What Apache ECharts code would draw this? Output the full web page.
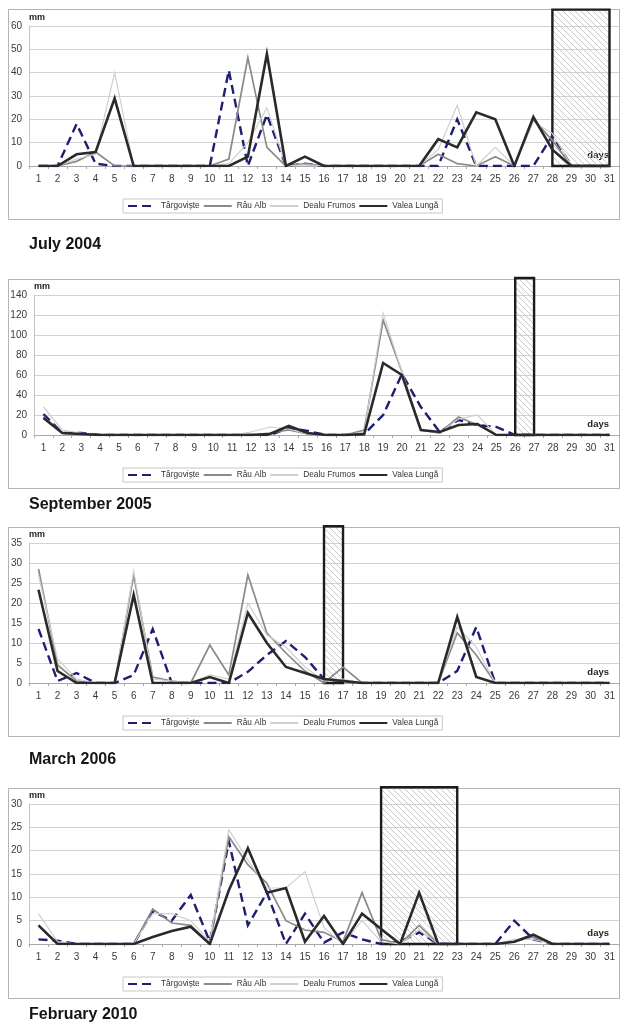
<!DOCTYPE html>
<html>
<head>
<meta charset="utf-8">
<script src="https://cdn.jsdelivr.net/npm/echarts@6/dist/echarts.min.js"></script>
<style>
  html, body { margin: 0; padding: 0; background: #fff; }
  #chart { width: 620px; height: 1026px; }
</style>
</head>
<body>
<div id="chart"></div>
<script>
// Daily precipitation (mm) at four stations, one panel per month
const days = ['1','2','3','4','5','6','7','8','9','10','11','12','13','14','15','16',
              '17','18','19','20','21','22','23','24','25','26','27','28','29','30','31'];
const stations = ['Târgoviște', 'Râu Alb', 'Dealu Frumos', 'Valea Lungă'];
const monthTitles = ['July 2004', 'September 2005', 'March 2006', 'February 2010'];

// July 2004
const targJul04  = [0,0,18,1,0,0,0,0,0,0,41,0,22,0,1,0,0,0,0,0,0,0,20,0,0,0,0,13,0,0,0];
const rauJul04   = [0,0,2,6,0,0,0,0,0,0,3,46.5,8,0,1,0,0,0,0,0,0,5,1,0,4,0,20,11,0,0,0];
const dealuJul04 = [0,0,3,5,40,0,0,0,0,0,1,10,25,0,0.5,0,0,0,0,0,0,7,26,0,8,0,19,14,0,0,0];
const valeaJul04 = [0,0,5,6,29,0,0,0,0,0,0,4,48,0,4,0,0,0,0,0,0,11.5,8,23,20,0,21,7,0,0,0];

// September 2005
const targSep05  = [21,2,2,0,0,0,0,0,0,0,0,0,0,7,4,0,0,1,20,61,28,3,15,10,8,0,0,0,0,0,0];
const rauSep05   = [18,2,1,0,0,0,0,0,0,0,0,0,2,5,1,0,0,5,115,63,5,2,18,10,0,0,0,0,0,0,0];
const dealuSep05 = [28,5,2,0,0,0,0,0,0,0,0,3,8,6,1,0,0,3,122,63,5,2,16,20,0,0,0,0,0,0,0];
const valeaSep05 = [17,2,1,0,0,0,0,0,0,0,0,0,1,9,2,0,0,1,72,60,5,3,10,11,0,0,0,0,0,0,0];

// March 2006
const targMar06  = [13.5,0.5,2.5,0,0,2,13.5,0,0,0,0,2.8,7,10.5,6.5,1,0.5,0,0,0,0,0,3,14,0,0,0,0,0,0,0];
const rauMar06   = [28.5,4.5,0.5,0,0,27,1.5,0.5,0,9.5,2,27,12.5,7.5,3,0,4,0,0,0,0,0,12.5,7,0,0,0,0,0,0,0];
const dealuMar06 = [27,6,1,0,0,28,1,0.5,0,2,1,20,12,9,4,0.5,1,0,0,0,0,0,14,9,0,0,0,0,0,0,0];
const valeaMar06 = [23.3,3,0,0,0,22,0,0,0,1.5,0,17.5,10,4,2.5,1,0.5,0,0,0,0,0,16.5,1.5,0,0,0,0,0,0,0];

// February 2010
const targFeb10  = [1,0.7,0,0,0,0,7,5,10.5,0.5,22,4,11,0,6.5,0.3,2.5,1,0,0.5,2.5,0,0,0,0,5,1,0,0,0,0];
const rauFeb10   = [4,0,0,0,0,0,7.5,4.5,4,0,23,17,13,5,3,2.5,0.5,11,1,0,4,0,0,0,0,0.5,1.5,0,0,0,0];
const dealuFeb10 = [6.5,0.5,0,0,0,0,6.5,6.5,5,0.5,24.5,18,12,12,15.5,3.5,0,5,0.5,0,3,0,0,0,0,1,1,0,0,0,0];
const valeaFeb10 = [4,0,0,0,0,0,1.5,2.8,3.7,0,11.5,20.5,11,12,0.5,6,0,6.5,3.2,0,11,0,0,0,0,0.5,2,0,0,0,0];

// y-axis tick settings per month: [max, interval]
const yTicks = [[60, 10], [140, 20], [35, 5], [30, 5]];

// Hatched dry-period column per month: [first day index, last day index, top value]
const dryJul04 = [27, 30, 67];
const drySep05 = [25, 26, 157];
const dryMar06 = [15, 16, 39.2];
const dryFeb10 = [18, 22, 33.6];

const monthSeries = [
  [targJul04, rauJul04, dealuJul04, valeaJul04],
  [targSep05, rauSep05, dealuSep05, valeaSep05],
  [targMar06, rauMar06, dealuMar06, valeaMar06],
  [targFeb10, rauFeb10, dealuFeb10, valeaFeb10]
];
const dryPeriods = [dryJul04, drySep05, dryMar06, dryFeb10];

// Panel layout (pixels)
const panels = [
  { frameTop: 9,   frameBottom: 219, gridTop: 26,  gridLeft: 29, legendTop: 199, titleTop: 237 },
  { frameTop: 279, frameBottom: 488, gridTop: 295, gridLeft: 34, legendTop: 468, titleTop: 497 },
  { frameTop: 527, frameBottom: 736, gridTop: 543, gridLeft: 29, legendTop: 716, titleTop: 752 },
  { frameTop: 788, frameBottom: 998, gridTop: 804, gridLeft: 29, legendTop: 977, titleTop: 1007 }
];

const lineStyles = [
  { color: '#1e1e72', width: 2.4, type: [9, 5] },
  { color: '#8a8a8a', width: 1.7, type: 'solid' },
  { color: '#cfcfcf', width: 1.2, type: 'solid' },
  { color: '#2a2a2a', width: 2.6, type: 'solid' }
];

// diagonal hatch pattern for the dry-period column
const hatch = document.createElement('canvas');
hatch.width = 6; hatch.height = 6;
(function () {
  const c = hatch.getContext('2d');
  c.strokeStyle = '#c2c2c2';
  c.lineWidth = 0.9;
  c.beginPath();
  c.moveTo(-1, -1); c.lineTo(7, 7);
  c.moveTo(-1, 5);  c.lineTo(1, 7);
  c.moveTo(5, -1);  c.lineTo(7, 1);
  c.stroke();
})();

const FONT = '"Liberation Sans", Arial, sans-serif';

const option = {
  backgroundColor: '#ffffff',
  animation: false,
  textStyle: { fontFamily: FONT },
  title: [], grid: [], xAxis: [], yAxis: [], legend: [], series: [],
  graphic: []
};

panels.forEach((p, i) => {
  option.graphic.push({
    type: 'rect', silent: true, z: -1,
    shape: { x: 8.5, y: p.frameTop + 0.5, width: 611, height: p.frameBottom - p.frameTop },
    style: { fill: 'none', stroke: '#b4b4b4', lineWidth: 1 }
  });

  option.title.push({
    text: monthTitles[i], left: 29, top: p.titleTop, padding: 0,
    textStyle: { fontFamily: FONT, fontSize: 16, fontWeight: 'bold', color: '#151515' }
  });

  option.grid.push({ left: p.gridLeft, right: 1, top: p.gridTop, height: 140 });

  option.xAxis.push({
    type: 'category', gridIndex: i, data: days, boundaryGap: true,
    name: 'days', nameLocation: 'end', nameGap: -10,
    nameTextStyle: { fontFamily: FONT, fontSize: 9.5, fontWeight: 'bold', color: '#222',
                     align: 'right', verticalAlign: 'bottom', padding: [0, 0, 6, 0] },
    axisLine: { show: true, lineStyle: { color: '#a8a8a8', width: 1 } },
    axisTick: { show: true, length: 3, lineStyle: { color: '#a8a8a8' } },
    axisLabel: { interval: 0, fontFamily: FONT, fontSize: 10, color: '#3a3a3a', margin: 8 },
    splitLine: { show: false }
  });

  option.yAxis.push({
    type: 'value', gridIndex: i, min: 0, max: yTicks[i][0], interval: yTicks[i][1],
    name: 'mm', nameLocation: 'end', nameGap: 4,
    nameTextStyle: { fontFamily: FONT, fontSize: 9, fontWeight: 'bold', color: '#222', align: 'left' },
    axisLine: { show: true, lineStyle: { color: '#c4c4c4', width: 1 } },
    axisTick: { show: false },
    axisLabel: { fontFamily: FONT, fontSize: 10, color: '#3a3a3a', margin: 7 },
    splitLine: { show: true, lineStyle: { color: '#d2d2d2', width: 1.2 } }
  });

  option.legend.push({
    data: stations, left: 123, top: p.legendTop, orient: 'horizontal',
    padding: [3, 4], itemGap: 3, itemWidth: 28, itemHeight: 10,
    borderColor: '#c6c6c6', borderWidth: 1, backgroundColor: '#fff',
    selectedMode: false,
    itemStyle: { color: 'rgba(0,0,0,0)', borderWidth: 0, opacity: 0 },
    textStyle: { fontFamily: FONT, fontSize: 8.3, color: '#333' }
  });

  option.series.push({
    type: 'custom', xAxisIndex: i, yAxisIndex: i, clip: false, silent: true, z: 1,
    data: [dryPeriods[i]],
    renderItem: (params, api) => {
      const base = api.coord([api.value(0), 0]);
      const far = api.coord([api.value(1), api.value(2)]);
      return {
        type: 'rect',
        shape: { x: base[0], y: far[1], width: far[0] - base[0], height: base[1] - far[1] },
        style: { fill: { image: hatch, repeat: 'repeat' }, stroke: '#1c1c1c', lineWidth: 2.4 }
      };
    }
  });

  monthSeries[i].forEach((vals, k) => {
    option.series.push({
      name: stations[k], type: 'line', xAxisIndex: i, yAxisIndex: i,
      data: vals, symbol: 'none', z: 2 + k,
      lineStyle: { color: lineStyles[k].color, width: lineStyles[k].width,
                   type: lineStyles[k].type, cap: 'butt', join: 'miter' },
      itemStyle: { color: lineStyles[k].color }
    });
  });
});

const chart = echarts.init(document.getElementById('chart'), null, { renderer: 'canvas' });
chart.setOption(option);
</script>
</body>
</html>
